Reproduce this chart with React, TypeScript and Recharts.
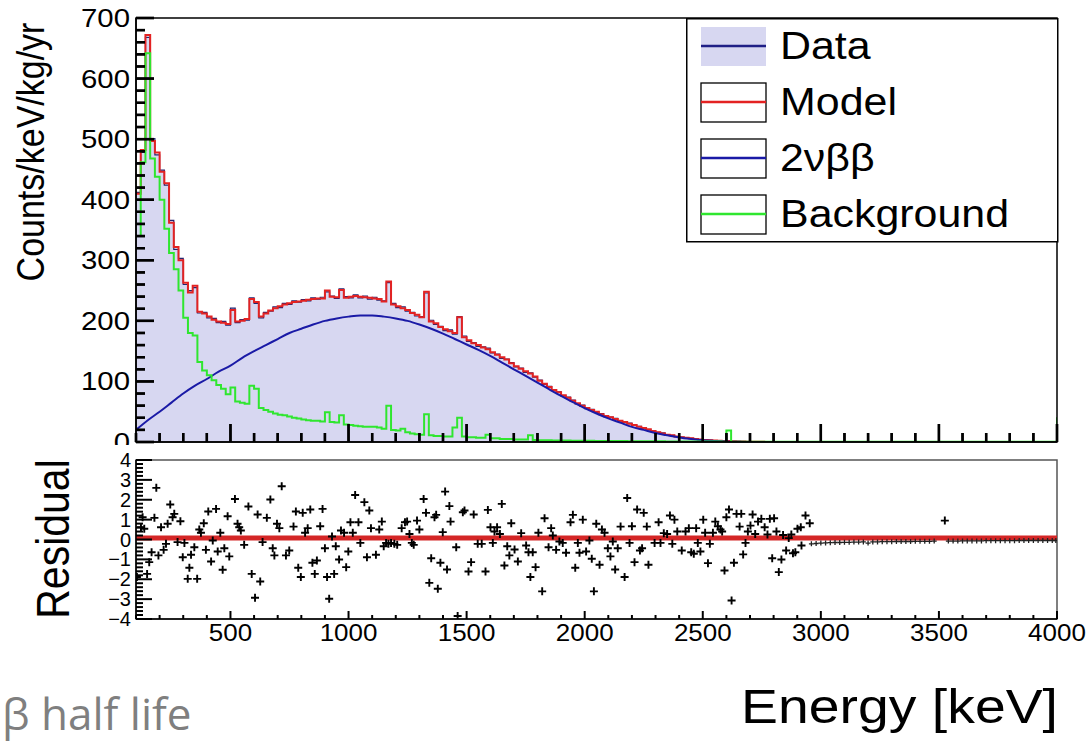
import {
  Area,
  ComposedChart,
  Label,
  Legend,
  Line,
  ReferenceArea,
  ReferenceLine,
  Scatter,
  XAxis,
  YAxis,
} from "recharts";

const FONT = '"Liberation Sans", Arial, Helvetica, sans-serif';
const NARROW = '"Liberation Sans Narrow", "Liberation Sans", sans-serif';
const WIDE = 1.13;

const PLOT_LEFT = 136;
const TOP_AXIS_Y = 442;
const RES_AXIS_Y = 174; // bottom of residual pad, in its own svg

// histogram binning (keV)
const BIN_START = 100;
const BIN_WIDTH = 20;

const modelCounts = [
  410, 482, 672, 497, 478, 446, 427, 362, 322, 300,
  263, 247, 258, 215, 212, 207, 202, 199, 197, 195,
  218, 199, 200, 203, 236, 231, 207, 212, 217, 221,
  224, 227, 229, 231, 232, 233, 235, 236, 237, 237,
  250, 240, 239, 251, 238, 240, 241, 240, 239, 238,
  237, 236, 232, 265, 227, 224, 221, 218, 213, 210,
  206, 248, 199, 196, 190, 186, 183, 180, 206, 173,
  168, 163, 160, 156, 153, 148, 144, 140, 136, 130,
  125, 121, 117, 113, 108, 101, 96, 91, 86, 82,
  77, 73, 68, 64, 60, 56, 53, 50, 46, 43,
  41, 38, 35, 33, 30, 28, 25, 23, 21, 18,
  16, 14, 12, 11, 9, 8, 7, 6, 5, 4,
  3.5, 3, 2.5, 2, 1.8, 1.5, 1.2, 1, 0.8, 0.6,
  0.5, 0.4, 0.3, 0.2, 0.1,
];

const dataCounts = [
  412, 478, 668, 501, 474, 449, 424, 366, 318, 303,
  260, 250, 255, 213, 214, 205, 204, 197, 199, 193,
  221, 197, 202, 201, 238, 229, 205, 214, 216, 223,
  222, 229, 227, 233, 231, 235, 233, 238, 236, 239,
  248, 241, 237, 253, 240, 238, 243, 238, 241, 236,
  239, 234, 233, 263, 229, 222, 223, 216, 214, 208,
  207, 246, 201, 194, 191, 184, 185, 178, 207, 175,
  166, 164, 158, 157, 155, 147, 145, 138, 137, 131,
  124, 122, 115, 114, 107, 102, 95, 92, 85, 83,
  76, 74, 69, 63, 61, 55, 54, 49, 47, 42,
  41, 39, 35, 32, 31, 28, 26, 23, 20, 19,
  16, 15, 12, 11, 9, 8, 7, 6, 5, 4,
  3.5, 3, 2.5, 2, 1.8, 1.5, 1.2, 1, 0.8, 0.6,
  0.5, 0.4, 0.3, 0.2, 0.1,
];

const backgroundCounts = [
  340, 462, 642, 468, 438, 400, 352, 312, 285, 250,
  205, 180, 176, 132, 118, 110, 102, 94, 88, 79,
  90, 67, 65, 63, 93, 88, 56, 53, 50, 47,
  45, 44, 42, 40, 39, 37, 36, 35, 35, 34,
  49, 33, 32, 44, 29, 28, 27, 26, 25, 25,
  25, 24, 22, 60, 20, 19, 22, 16, 14, 13,
  12, 46, 11, 10, 10, 9, 9, 24, 40, 9,
  8, 8, 7, 7, 12, 6, 6, 5, 5, 5,
  4, 4, 4, 11, 3.5, 3, 3, 2.8, 2.6, 2.5,
  2.4, 2.3, 2.2, 2.1, 2, 2, 1.9, 1.8, 1.8, 1.7,
  1.6, 1.6, 1.5, 1.5, 1.4, 1.4, 1.3, 1.3, 1.2, 1.2,
  1.1, 1.1, 1, 1, 1, 0.9, 0.9, 0.9, 0.8, 0.8,
  0.8, 0.7, 0.7, 0.7, 0.6, 19, 0.6, 0.6, 0.5, 0.5,
  0.5, 0.4, 0.4, 0.4, 0.4,
];
const backgroundHighEnergy = 0.4; // 2800 - 4000 keV
const backgroundOverflow = 41;

const doubleBetaEnergy = [
  100, 150, 200, 250, 300, 350, 400, 450, 500, 550, 600, 650, 700, 750, 800, 850, 900, 950,
  1000, 1050, 1100, 1150, 1200, 1250, 1300, 1350, 1400, 1450, 1500, 1550, 1600, 1650, 1700,
  1750, 1800, 1850, 1900, 1950, 2000, 2050, 2100, 2150, 2200, 2250, 2300, 2350, 2400, 2450,
  2500, 2550, 2600, 2650, 2700,
];
const doubleBetaCounts = [
  20, 36, 50, 65, 80, 93, 104, 116, 126, 139, 150, 160, 170, 180, 187, 194, 200, 204,
  207, 209, 209, 207, 204, 200, 194, 187, 179, 170, 161, 152, 142, 131, 120,
  109, 98, 87, 76, 66, 56, 47, 39, 32, 25, 20, 15, 11, 7.5, 5,
  3, 1.8, 0.8, 0.3, 0,
];

// residual (data - model)/sigma : [energy keV, residual]
const residualPoints: [number, number][] = [
  [104, -1.89], [121, 0.62], [128, 1.12], [135, 0.54], [147, -1.73], [156, -1.14], [166, -0.64],
  [178, 1.09], [186, 2.6], [195, -0.8], [206, 0.62], [217, -0.52], [227, -0.22], [234, 0.79],
  [245, 1.76], [255, 1.12], [262, 1.29], [276, -0.13], [288, 0.92], [298, -0.89], [305, -0.17],
  [319, -1.98], [326, -1.42], [333, -0.77], [347, -0.39], [359, -1.98], [368, 0.5], [375, 0.34],
  [387, 0.82], [396, -0.52], [406, 1.41], [418, -1.11], [425, -0.05], [439, 1.54], [446, -0.6],
  [457, 0.34], [467, -1.52], [474, -0.44], [488, 1.17], [495, -0.85], [519, 2.04], [530, 0.79],
  [537, 0.62], [544, 0.45], [558, -0.27], [576, 1.66], [590, -1.73], [604, -2.93], [615, 1.26],
  [626, -2.11], [636, -0.13], [654, 1.09], [669, 2.01], [679, -0.44], [686, -0.8], [697, 0.79],
  [707, 0.57], [717, 2.68], [735, -0.8], [749, -0.55], [767, 0.65], [777, 1.41], [787, -1.42],
  [798, -1.89], [806, 1.34], [816, 0.34], [827, 0.57], [838, 1.51], [847, -1.17], [857, -1.73],
  [866, -1.06], [880, 0.67], [890, 1.54], [900, -0.44], [909, -1.89], [918, -2.98], [930, 0.15],
  [939, -1.73], [946, -0.34], [960, -1.01], [968, 0.45], [981, 0.34], [990, -1.39], [999, -0.6],
  [1008, 0.87], [1018, 0.34], [1028, 2.24], [1042, 0.87], [1050, -0.17], [1067, 1.88],
  [1078, -0.89], [1088, 1.46], [1095, 0.57], [1116, -0.77], [1130, 0.5], [1141, 0.9],
  [1149, -0.34], [1159, -0.17], [1169, -0.22], [1180, -0.17], [1194, -0.22], [1206, -0.27],
  [1225, 0.57], [1239, 0.87], [1248, 0.9], [1258, 0.28], [1268, -0.17], [1276, -0.27],
  [1290, 0.95], [1300, 0.5], [1318, 2.04], [1328, 1.34], [1342, -2.18], [1350, -0.94],
  [1364, 1.12], [1371, 1.24], [1378, -2.48], [1389, -1.17], [1399, 0.37], [1409, 2.41],
  [1417, -1.51], [1427, 1.68], [1432, 0.9], [1456, -0.39], [1462, -3.85], [1484, 1.37],
  [1491, 1.46], [1508, -1.61], [1519, -1.14], [1530, 1.26], [1547, -0.22], [1564, -0.22],
  [1580, -1.61], [1590, 1.49], [1601, 0.62], [1611, -0.17], [1618, 0.4], [1629, 0.62],
  [1641, 0.28], [1649, 1.79], [1660, -1.31], [1672, -0.34], [1681, -0.8], [1689, 0.82],
  [1703, -0.5], [1717, -1.11], [1731, 0.32], [1752, -0.3], [1762, -0.64], [1770, -1.89],
  [1780, -0.64], [1792, -1.39], [1804, 0.34], [1820, -2.61], [1830, 1.07], [1847, -0.39],
  [1858, 0.57], [1865, 0.2], [1879, -0.52], [1893, -0.1], [1907, -0.17], [1921, -0.67],
  [1940, 0.87], [1950, 1.24], [1960, -1.42], [1971, -0.17], [1978, -0.67], [1992, 1.0],
  [2006, -0.6], [2020, -0.05], [2030, -0.97], [2039, -2.61], [2049, 0.79], [2063, -1.27],
  [2073, 0.5], [2084, 0.34], [2098, -0.44], [2109, -0.85], [2119, -0.1], [2129, -1.51],
  [2140, -0.44], [2152, 0.65], [2169, -1.89], [2180, 2.09], [2190, -0.17], [2200, 0.67],
  [2211, -1.14], [2222, 1.51], [2234, -0.55], [2243, -0.44], [2250, 1.34], [2263, 0.65],
  [2270, -1.27], [2296, -0.17], [2313, 0.87], [2321, -0.17], [2335, 0.32], [2349, 0.28],
  [2361, 1.21], [2371, -0.22], [2380, 1.0], [2392, 0.4], [2411, -0.55], [2427, 0.4],
  [2441, 0.57], [2451, -0.64], [2462, -0.72], [2472, 0.57], [2479, -0.17], [2490, -0.6],
  [2502, 1.0], [2510, 0.34], [2522, -1.19], [2530, -0.22], [2543, 0.34], [2553, 0.9],
  [2564, 0.67], [2575, 0.5], [2582, 0.4], [2592, -1.56], [2600, 1.12], [2611, 1.51],
  [2622, -3.07], [2632, -1.17], [2643, 1.29], [2656, 0.65], [2663, 1.29], [2671, -0.75],
  [2681, -0.17], [2691, 0.4], [2702, 0.7], [2711, 1.26], [2722, 0.28], [2734, 0.9],
  [2748, 1.04], [2762, 0.62], [2774, 0.25], [2784, 1.04], [2794, -0.94], [2802, 1.07],
  [2812, 0.4], [2822, -1.64], [2833, -1.01], [2840, 0.23], [2853, -0.55], [2864, 0.07],
  [2875, 0.25], [2882, -0.69], [2892, -0.64], [2901, 0.54], [2915, 0.62], [2918, -0.3],
  [2935, 1.21], [2953, 0.82], [3525, 0.95],
];

// near-empty bins above the endpoint
const residualTailEnergy = [
  2960, 2980, 3000, 3020, 3040, 3060, 3080, 3100, 3120, 3140, 3160, 3180, 3200, 3220, 3240,
  3260, 3280, 3300, 3320, 3340, 3360, 3380, 3400, 3420, 3440, 3460, 3480, 3540, 3560, 3580,
  3600, 3620, 3640, 3660, 3680, 3700, 3720, 3740, 3760, 3780, 3800, 3820, 3840, 3860, 3880,
  3900, 3920, 3940, 3960, 3980, 3995,
];
const residualTailValue = [
  -0.22, -0.2, -0.18, -0.17, -0.16, -0.15, -0.15, -0.14, -0.14, -0.13, -0.13, -0.12, -0.18,
  -0.12, -0.12, -0.11, -0.11, -0.11, -0.1, -0.1, -0.1, -0.1, -0.09, -0.09, -0.09, -0.09,
  -0.08, -0.08, -0.08, -0.08, -0.07, -0.07, -0.07, -0.07, -0.07, -0.06, -0.06, -0.06, -0.06,
  -0.06, -0.06, -0.06, -0.05, -0.05, -0.05, -0.05, -0.05, -0.05, -0.05, -0.05, -0.05,
];
const residualFitLevel = 0.08;

const energyLabels = [500, 1000, 1500, 2000, 2500, 3000, 3500, 4000];

const legendEntries = [
  { name: "Data", color: "#1f1f86", filled: true },
  { name: "Model", color: "#e32222", filled: false },
  { name: "2νββ", color: "#1a1aa6", filled: false },
  { name: "Background", color: "#2fe62f", filled: false },
];

function tickRange(from: number, to: number, step: number) {
  const out: number[] = [];
  for (let v = from; v <= to + 1e-9; v += step) out.push(Math.round(v * 10) / 10);
  return out;
}

function toSteps(counts: number[]) {
  const pts = counts.map((v, i) => ({ e: BIN_START + i * BIN_WIDTH, v }));
  pts.push({ e: BIN_START + counts.length * BIN_WIDTH, v: counts[counts.length - 1] });
  return pts;
}

const dataSteps = toSteps(dataCounts);
const modelSteps = toSteps(modelCounts);
const backgroundSteps = [
  ...backgroundCounts.map((v, i) => ({ e: BIN_START + i * BIN_WIDTH, v })),
  { e: BIN_START + backgroundCounts.length * BIN_WIDTH, v: backgroundHighEnergy },
  { e: 4000, v: backgroundOverflow },
];
const doubleBetaData = doubleBetaEnergy.map((e, i) => ({ e, v: doubleBetaCounts[i] }));
const residualData = residualPoints.map(([e, v]) => ({ e, v }));
const residualTailData = residualTailEnergy.map((e, i) => ({ e, v: residualTailValue[i] }));

const energyTicks = tickRange(100, 4000, 100);
const countTicks = tickRange(0, 700, 20);
const residualTicks = tickRange(-4, 4, 0.2);

const TOP_MARGIN = { top: 18, right: 31, bottom: 0, left: 0 };

function CountTick(props: any) {
  const { y, payload } = props;
  const v = payload.value as number;
  const major = v % 100 === 0;
  return (
    <g>
      <line x1={PLOT_LEFT} x2={PLOT_LEFT + (major ? 18 : 9)} y1={y} y2={y} stroke="#000" strokeWidth={2.4} />
      {major && (
        <text
          transform={`translate(${PLOT_LEFT - 6},${y + 9}) scale(${WIDE},1)`}
          textAnchor="end"
          fontSize={26}
          fontFamily={FONT}
          fill="#000"
        >
          {v}
        </text>
      )}
    </g>
  );
}

function TopEnergyTick(props: any) {
  const { x, payload } = props;
  const major = payload.value % 500 === 0;
  return (
    <line x1={x} x2={x} y1={TOP_AXIS_Y} y2={TOP_AXIS_Y - (major ? 18 : 9)} stroke="#000" strokeWidth={2.4} />
  );
}

// tick marks drawn in the spectrum pad itself, above the filled histogram
function countTickMark(value: number) {
  const len = value % 100 === 0 ? 18 : 9;
  return (p: any) => {
    const x0 = Math.min(p.x1, p.x2);
    return <line x1={x0} x2={x0 + len} y1={p.y1} y2={p.y1} stroke="#000" strokeWidth={2.4} />;
  };
}

function energyTickMark(value: number) {
  const len = value % 500 === 0 ? 18 : 9;
  return (p: any) => {
    const y0 = Math.max(p.y1, p.y2);
    return <line x1={p.x1} x2={p.x1} y1={y0} y2={y0 - len} stroke="#000" strokeWidth={2.4} />;
  };
}

function ResidualTick(props: any) {
  const { y, payload } = props;
  const v = payload.value as number;
  const major = Number.isInteger(v);
  return (
    <g>
      <line x1={PLOT_LEFT} x2={PLOT_LEFT + (major ? 16 : 7)} y1={y} y2={y} stroke="#000" strokeWidth={2} />
      {major && (
        <text x={PLOT_LEFT - 5} y={y + 7} textAnchor="end" fontSize={20} fontFamily={NARROW} fill="#000">
          {v < 0 ? `\u2212${-v}` : `${v}`}
        </text>
      )}
    </g>
  );
}

function ResidualEnergyTick(props: any) {
  const { x, payload } = props;
  const v = payload.value as number;
  const major = energyLabels.includes(v);
  return (
    <g>
      <line x1={x} x2={x} y1={RES_AXIS_Y} y2={RES_AXIS_Y - (major ? 8 : 4)} stroke="#000" strokeWidth={2} />
      {major && (
        <text
          transform={`translate(${x},${RES_AXIS_Y + 22}) scale(${WIDE},1)`}
          textAnchor="middle"
          fontSize={23}
          fontFamily={FONT}
          fill="#000"
        >
          {v}
        </text>
      )}
    </g>
  );
}

function PlusMarker(props: any) {
  const { cx, cy } = props;
  return (
    <path d={`M${cx - 4},${cy}H${cx + 4}M${cx},${cy - 4}V${cy + 4}`} stroke="#000" strokeWidth={1.9} fill="none" />
  );
}

function TailMarker(props: any) {
  const { cx, cy } = props;
  return (
    <path d={`M${cx - 2.5},${cy}H${cx + 2.5}M${cx},${cy - 2.5}V${cy + 2.5}`} stroke="#222" strokeWidth={1.3} fill="none" />
  );
}

function LegendBox() {
  const rows = [28, 84, 140, 196];
  return (
    <svg width={373} height={225} style={{ display: "block" }}>
      <rect x={0.75} y={0.75} width={371} height={223} fill="#fff" stroke="#000" strokeWidth={1.5} />
      {legendEntries.map((entry, i) => {
        const cy = rows[i];
        return (
          <g key={entry.name}>
            {entry.filled ? (
              <rect x={15} y={cy - 19} width={65} height={39} fill="#d7d7f1" />
            ) : (
              <rect x={15} y={cy - 19} width={65} height={39} fill="#fff" stroke="#000" strokeWidth={1.3} />
            )}
            <line x1={15} x2={80} y1={cy} y2={cy} stroke={entry.color} strokeWidth={2.5} />
            <text
              transform={`translate(94,${cy + 13}) scale(${WIDE},1)`}
              fontSize={38}
              fontFamily={FONT}
              fill="#000"
            >
              {entry.name}
            </text>
          </g>
        );
      })}
    </svg>
  );
}

export default function App() {
  return (
    <div style={{ position: "absolute", left: 0, top: 0, width: 1088, height: 743, background: "#fff", overflow: "hidden" }}>
      {/* spectrum pad: series */}
      <div style={{ position: "absolute", left: 0, top: 0 }}>
        <ComposedChart width={1088} height={460} margin={TOP_MARGIN}>
          <XAxis type="number" dataKey="e" domain={[100, 4000]} tick={false} tickLine={false} axisLine={false} height={18} allowDataOverflow />
          <YAxis type="number" dataKey="v" domain={[0, 700]} tick={false} tickLine={false} axisLine={false} width={PLOT_LEFT} allowDataOverflow />
          <Area
            data={dataSteps}
            type="stepAfter"
            dataKey="v"
            stroke="#23236e"
            strokeWidth={1.2}
            fill="#d7d7f1"
            fillOpacity={1}
            isAnimationActive={false}
          />
          <Line data={modelSteps} type="stepAfter" dataKey="v" stroke="#e32222" strokeWidth={2} dot={false} isAnimationActive={false} />
          <Line data={doubleBetaData} type="monotone" dataKey="v" stroke="#1a1aa6" strokeWidth={2} dot={false} isAnimationActive={false} />
          <Line data={backgroundSteps} type="stepAfter" dataKey="v" stroke="#2fe62f" strokeWidth={2} dot={false} isAnimationActive={false} />
          {countTicks.map((v) => (
            <ReferenceLine key={`cy${v}`} y={v} stroke="#000" shape={countTickMark(v)} />
          ))}
          {energyTicks.map((v) => (
            <ReferenceLine key={`ex${v}`} x={v} stroke="#000" shape={energyTickMark(v)} />
          ))}
        </ComposedChart>
      </div>

      {/* spectrum pad: frame, axes and legend */}
      <div style={{ position: "absolute", left: 0, top: 0 }}>
        <ComposedChart width={1088} height={460} margin={TOP_MARGIN}>
          <XAxis
            type="number"
            dataKey="e"
            domain={[100, 4000]}
            ticks={energyTicks}
            interval={0}
            tick={TopEnergyTick}
            tickLine={false}
            tickSize={0}
            height={18}
            axisLine={{ stroke: "#000", strokeWidth: 1.5 }}
            allowDataOverflow
          />
          <YAxis
            type="number"
            dataKey="v"
            domain={[0, 700]}
            ticks={countTicks}
            interval={0}
            tick={CountTick}
            tickLine={false}
            tickSize={0}
            width={PLOT_LEFT}
            axisLine={{ stroke: "#000", strokeWidth: 1.5 }}
            allowDataOverflow
          >
            <Label
              content={() => (
                <text
                  transform="translate(44,152) rotate(-90) scale(1,1.13)"
                  textAnchor="middle"
                  fontSize={34}
                  fontFamily={FONT}
                  fill="#000"
                >
                  Counts/keV/kg/yr
                </text>
              )}
            />
          </YAxis>
          <Line data={modelSteps} dataKey="v" stroke="none" dot={false} legendType="none" isAnimationActive={false} />
          <ReferenceArea x1={100} x2={4000} y1={0} y2={700} fill="none" stroke="#000" strokeWidth={1.5} />
          <Legend
            layout="vertical"
            align="center"
            verticalAlign="middle"
            wrapperStyle={{ left: 686, top: 18, width: 373, height: 225 }}
            content={() => <LegendBox />}
          />
        </ComposedChart>
      </div>

      {/* residual pad */}
      <div style={{ position: "absolute", left: 0, top: 445, width: 1088, height: 298, background: "#fff" }}>
        <ComposedChart width={1088} height={298} margin={{ top: 15, right: 31, bottom: 0, left: 0 }}>
          <ReferenceLine y={residualFitLevel} stroke="#d42626" strokeWidth={5} />
          <Scatter data={residualTailData} dataKey="v" shape={TailMarker} isAnimationActive={false} />
          <Scatter data={residualData} dataKey="v" shape={PlusMarker} isAnimationActive={false} />
          <XAxis
            type="number"
            dataKey="e"
            domain={[100, 4000]}
            ticks={energyTicks}
            interval={0}
            tick={ResidualEnergyTick}
            tickLine={false}
            tickSize={0}
            height={124}
            axisLine={{ stroke: "#000", strokeWidth: 1.5 }}
            allowDataOverflow
          >
            <Label
              content={() => (
                <text
                  transform={`translate(1058,278) scale(${WIDE},1)`}
                  textAnchor="end"
                  fontSize={49}
                  fontFamily={FONT}
                  fill="#000"
                >
                  Energy [keV]
                </text>
              )}
            />
          </XAxis>
          <YAxis
            type="number"
            dataKey="v"
            domain={[-4, 4]}
            ticks={residualTicks}
            interval={0}
            tick={ResidualTick}
            tickLine={false}
            tickSize={0}
            width={PLOT_LEFT}
            axisLine={{ stroke: "#000", strokeWidth: 1.5 }}
            allowDataOverflow
          >
            <Label
              content={() => (
                <text
                  transform="translate(69,94) rotate(-90) scale(1,1.13)"
                  textAnchor="middle"
                  fontSize={41}
                  fontFamily={FONT}
                  fill="#000"
                >
                  Residual
                </text>
              )}
            />
          </YAxis>
          <ReferenceArea x1={100} x2={4000} y1={-4} y2={4} fill="none" stroke="#555" strokeWidth={1.5} />
        </ComposedChart>
      </div>

      <div
        style={{
          position: "absolute",
          left: 2,
          top: 690,
          fontFamily: '"Open Sans", "Noto Sans", sans-serif',
          fontSize: 44,
          color: "#7f7f7f",
          whiteSpace: "nowrap",
          lineHeight: "46px",
        }}
      >
        β half life
      </div>
    </div>
  );
}
